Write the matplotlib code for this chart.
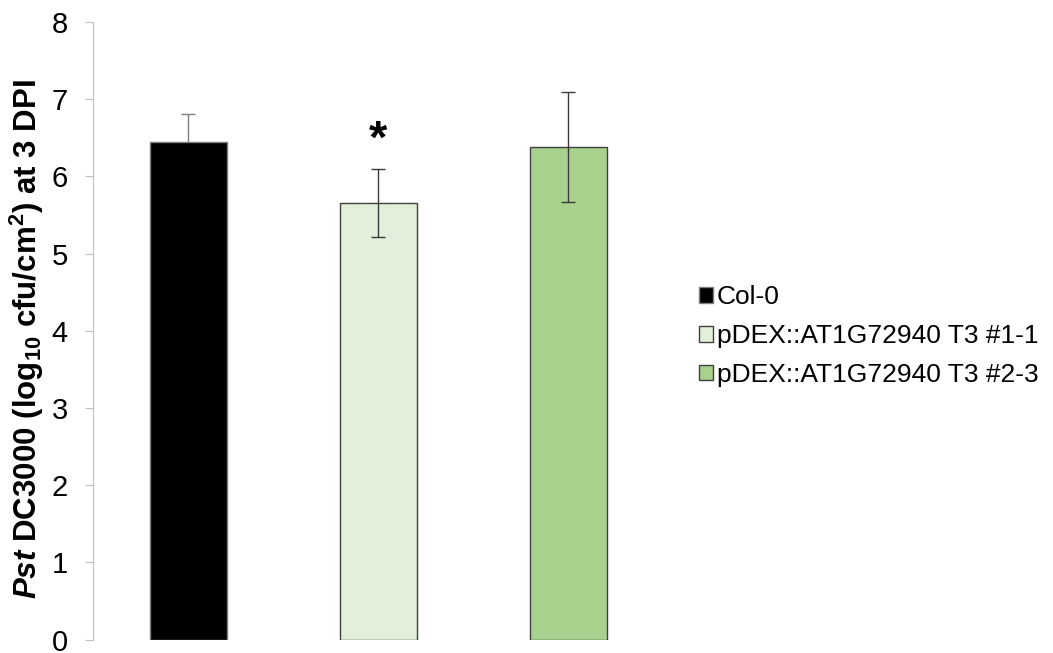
import matplotlib
matplotlib.use("Agg")
import matplotlib.pyplot as plt

labels = ["Col-0", "pDEX::AT1G72940 T3 #1-1", "pDEX::AT1G72940 T3 #2-3"]
means = [6.44, 5.66, 6.38]
errs = [0.37, 0.44, 0.71]
colors = ["#000000", "#E2EFDA", "#A9D18E"]
edges = ["#7f7f7f", "#404040", "#404040"]
sig = ["", "*", ""]

plt.rcParams["font.family"] = ["Liberation Sans", "DejaVu Sans"]
plt.rcParams["mathtext.fontset"] = "custom"
plt.rcParams["mathtext.rm"] = "Liberation Sans:bold"
plt.rcParams["mathtext.it"] = "Liberation Sans:bold:italic"
plt.rcParams["mathtext.bf"] = "Liberation Sans:bold"

fig = plt.figure(figsize=(10.53, 6.53), dpi=100)
ax = fig.add_axes([0.0883, 0.0205, 0.5417, 0.9458])

x = list(range(len(labels)))
bars = ax.bar(x, means, width=0.405, color=colors, edgecolor=edges,
              linewidth=1.0, label=labels, zorder=2)
# error bars: the one on the black bar sits behind it, as in the original
for xi, m, e, c in zip(x, means, errs, colors):
    z = 1 if c == "#000000" else 3
    ec = "#7f7f7f" if c == "#000000" else "#3a3a3a"
    ax.errorbar(xi, m, yerr=e, fmt="none", ecolor=ec, elinewidth=1.0,
                capsize=5, capthick=1.0, zorder=z)
for xi, m, e, s in zip(x, means, errs, sig):
    if s:
        ax.text(xi, m + e + 0.36, s, ha="center", va="center", fontsize=34, fontweight="bold")

ax.set_xlim(-0.5, 2.5)
ax.set_ylim(0, 8)
ax.set_yticks(range(0, 9))
ax.set_xticks([])
for sp in ["top", "right", "bottom"]:
    ax.spines[sp].set_visible(False)
ax.spines["left"].set_color("#bfbfbf")
ax.tick_params(axis="y", direction="out", length=6, color="#bfbfbf", labelsize=21, pad=12)
ax.set_ylabel(r"$\mathit{Pst}$ DC3000 (log$_{10}$ cfu/cm$^{2}$) at 3 DPI",
              fontsize=22.5, fontweight="bold")
ax.yaxis.set_label_coords(-0.082, 0.486)

fig.legend(handles=bars, labels=labels, loc="upper left", bbox_to_anchor=(0.664, 0.563),
           frameon=False, fontsize=19, handlelength=0.54, handleheight=0.54,
           handletextpad=0.12, labelspacing=0.56, borderpad=0, borderaxespad=0)

fig.savefig("out.png", dpi=100)
